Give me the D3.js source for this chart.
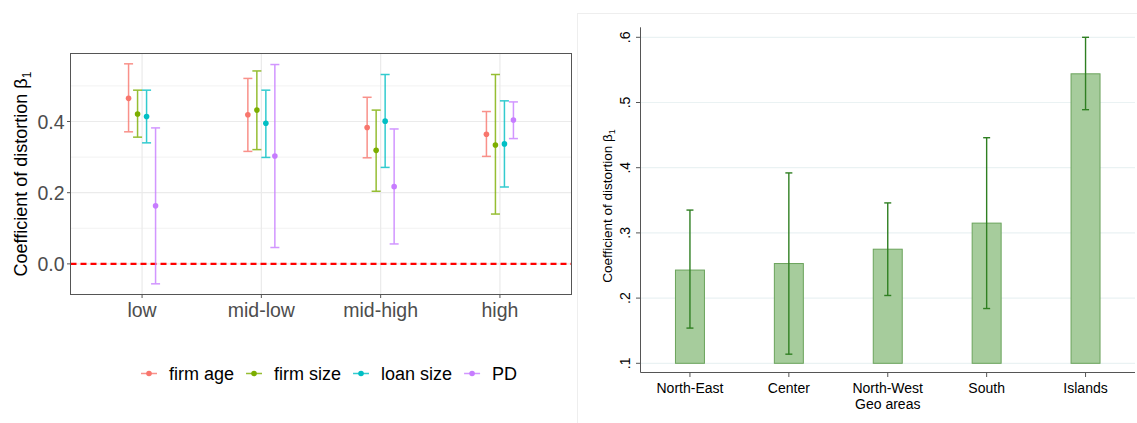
<!DOCTYPE html>
<html>
<head>
<meta charset="utf-8">
<script src="https://cdn.jsdelivr.net/npm/d3@7"></script>
<style>
  body { margin: 0; background: #fff; }
  text { font-family: "Liberation Sans", Arial, sans-serif; }
</style>
</head>
<body>
<script>
// ---- data: left panel (coefficient by quartile, four sorting variables)
var groups = ["low", "mid-low", "mid-high", "high"];
var series = ["firm age", "firm size", "loan size", "PD"];
var seriesColors = ["#F8766D", "#7CAE00", "#00BFC4", "#C77CFF"];
// estimate / lower / upper, one row per series, one column per group
var est = [
  [0.465, 0.419, 0.383, 0.364],
  [0.421, 0.432, 0.319, 0.334],
  [0.414, 0.395, 0.401, 0.337],
  [0.163, 0.303, 0.217, 0.404]
];
var lo = [
  [0.371, 0.316, 0.298, 0.302],
  [0.356, 0.321, 0.204, 0.140],
  [0.340, 0.299, 0.271, 0.216],
  [-0.056, 0.046, 0.056, 0.352]
];
var hi = [
  [0.562, 0.521, 0.468, 0.428],
  [0.488, 0.542, 0.432, 0.532],
  [0.488, 0.488, 0.532, 0.458],
  [0.382, 0.560, 0.379, 0.455]
];
var leftTicks = [0.0, 0.2, 0.4];
var leftMinor = [0.1, 0.3, 0.5];

// ---- data: right panel (coefficient by geo area)
var areas = ["North-East", "Center", "North-West", "South", "Islands"];
var areaEst = [0.243, 0.253, 0.275, 0.315, 0.544];
var areaLo = [0.154, 0.114, 0.204, 0.184, 0.489];
var areaHi = [0.335, 0.392, 0.346, 0.446, 0.600];
var rightTicks = [0.1, 0.2, 0.3, 0.4, 0.5, 0.6];

var W = 1137, H = 423;
var svg = d3.select("body").append("svg")
    .attr("width", W)
    .attr("height", H);

// ================= LEFT PANEL (ggplot look) =================
var L = {left: 70.5, right: 571.5, top: 53.5, bottom: 294.5};

var yL = d3.scaleLinear().domain([-0.086, 0.591]).range([L.bottom, L.top]);
var xL = d3.scalePoint().domain(groups).range([L.left, L.right]).padding(0.6);
var dodge = d3.scalePoint().domain(series).range([-13.5, 13.5]);

var gl = svg.append("g");

// minor grid
gl.selectAll(".minor").data(leftMinor).enter().append("line")
    .attr("x1", L.left).attr("x2", L.right)
    .attr("y1", function(d) { return yL(d); })
    .attr("y2", function(d) { return yL(d); })
    .style("stroke", "#F2F2F2").style("stroke-width", 1);
// major grid
gl.selectAll(".major").data(leftTicks).enter().append("line")
    .attr("x1", L.left).attr("x2", L.right)
    .attr("y1", function(d) { return yL(d); })
    .attr("y2", function(d) { return yL(d); })
    .style("stroke", "#EBEBEB").style("stroke-width", 1.2);
gl.selectAll(".vgrid").data(groups).enter().append("line")
    .attr("x1", function(d) { return xL(d); })
    .attr("x2", function(d) { return xL(d); })
    .attr("y1", L.top).attr("y2", L.bottom)
    .style("stroke", "#EBEBEB").style("stroke-width", 1.2);

// red dashed zero line
gl.append("line")
    .attr("x1", L.left).attr("x2", L.right)
    .attr("y1", yL(0)).attr("y2", yL(0))
    .style("stroke", "#FF0000")
    .style("stroke-width", 2.2)
    .style("stroke-dasharray", "6,4");

// error bars and points
series.forEach(function(s, i) {
  var g = gl.append("g");
  groups.forEach(function(grp, j) {
    var cx = xL(grp) + dodge(s);
    var bar = g.append("g").style("opacity", 0.8);
    bar.append("line")
        .attr("x1", cx).attr("x2", cx)
        .attr("y1", yL(lo[i][j])).attr("y2", yL(hi[i][j]))
        .style("stroke", seriesColors[i]).style("stroke-width", 1.5);
    [lo[i][j], hi[i][j]].forEach(function(v) {
      bar.append("line")
          .attr("x1", cx - 4.5).attr("x2", cx + 4.5)
          .attr("y1", yL(v)).attr("y2", yL(v))
          .style("stroke", seriesColors[i]).style("stroke-width", 1.5);
    });
    g.append("circle")
        .attr("cx", cx).attr("cy", yL(est[i][j]))
        .attr("r", 2.8)
        .style("fill", seriesColors[i]);
  });
});

// panel border
gl.append("rect")
    .attr("x", L.left).attr("y", L.top)
    .attr("width", L.right - L.left).attr("height", L.bottom - L.top)
    .style("fill", "none").style("stroke", "#555").style("stroke-width", 1);

// y axis ticks and labels
gl.selectAll(".ytick").data(leftTicks).enter().append("line")
    .attr("x1", L.left - 3.5).attr("x2", L.left)
    .attr("y1", function(d) { return yL(d); })
    .attr("y2", function(d) { return yL(d); })
    .style("stroke", "#555");
gl.selectAll(".ylab").data(leftTicks).enter().append("text")
    .attr("x", L.left - 6).attr("y", function(d) { return yL(d); })
    .attr("dy", "0.36em")
    .attr("text-anchor", "end")
    .style("font-size", "19.5px").style("fill", "#4D4D4D")
    .text(d3.format(".1f"));

// x axis ticks and labels
gl.selectAll(".xtick").data(groups).enter().append("line")
    .attr("x1", function(d) { return xL(d); })
    .attr("x2", function(d) { return xL(d); })
    .attr("y1", L.bottom).attr("y2", L.bottom + 3.5)
    .style("stroke", "#555");
gl.selectAll(".xlab").data(groups).enter().append("text")
    .attr("x", function(d) { return xL(d); })
    .attr("y", 316.5)
    .attr("text-anchor", "middle")
    .style("font-size", "19.5px").style("fill", "#4D4D4D")
    .text(function(d) { return d; });

// y title
var ytl = gl.append("text")
    .attr("transform", "translate(27," + ((L.top + L.bottom) / 2) + ") rotate(-90)")
    .attr("text-anchor", "middle")
    .style("font-size", "18px").style("fill", "#000");
ytl.append("tspan").text("Coefficient of distortion β");
ytl.append("tspan").attr("dy", "0.3em").style("font-size", "12px").text("1");

// legend
var legX = 141, legY = 373.5;
series.forEach(function(s, i) {
  var lg = gl.append("g").attr("transform", "translate(" + legX + "," + legY + ")");
  lg.append("line").attr("x1", 0).attr("x2", 16)
      .style("stroke", seriesColors[i]).style("stroke-width", 1.5).style("opacity", 0.8);
  lg.append("circle").attr("cx", 8).attr("r", 2.8).style("fill", seriesColors[i]);
  var t = lg.append("text").attr("x", 28).attr("dy", "0.36em")
      .style("font-size", "18px").style("fill", "#000").text(s);
  legX += 28 + t.node().getComputedTextLength() + 12;
});

// separator line between panels
svg.append("line")
    .attr("x1", 577.5).attr("x2", 577.5).attr("y1", 13).attr("y2", H)
    .style("stroke", "#EEEEEE");

// ================= RIGHT PANEL (Stata look) =================
var R = {left: 640.5, right: 1135, top: 37.3, bottom: 363.3, axisY: 372.5};

svg.append("line")
    .attr("x1", 577.5).attr("x2", W).attr("y1", 13.5).attr("y2", 13.5)
    .style("stroke", "#EEEEEE");

var yR = d3.scaleLinear().domain([0.1, 0.6]).range([R.bottom, R.top]);
var xR = d3.scaleBand().domain(areas).range([R.left, R.right])
    .paddingInner(0.707).paddingOuter(0.3535);

var gr = svg.append("g");

gr.selectAll(".rgrid").data(rightTicks).enter().append("line")
    .attr("x1", R.left).attr("x2", R.right)
    .attr("y1", function(d) { return yR(d); })
    .attr("y2", function(d) { return yR(d); })
    .style("stroke", "#EAF2F3").style("stroke-width", 1.2);

// bars
gr.selectAll(".bar").data(areas).enter().append("rect")
    .attr("x", function(d) { return xR(d); })
    .attr("width", xR.bandwidth())
    .attr("y", function(d, i) { return yR(areaEst[i]); })
    .attr("height", function(d, i) { return yR(0.1) - yR(areaEst[i]); })
    .style("fill", "#A6CC9C")
    .style("stroke", "#6AA35B")
    .style("stroke-width", 1);

// error bars
areas.forEach(function(a, i) {
  var cx = xR(a) + xR.bandwidth() / 2;
  gr.append("line")
      .attr("x1", cx).attr("x2", cx)
      .attr("y1", yR(areaLo[i])).attr("y2", yR(areaHi[i]))
      .style("stroke", "#2F7F22").style("stroke-width", 1.4);
  [areaLo[i], areaHi[i]].forEach(function(v) {
    gr.append("line")
        .attr("x1", cx - 3.5).attr("x2", cx + 3.5)
        .attr("y1", yR(v)).attr("y2", yR(v))
        .style("stroke", "#2F7F22").style("stroke-width", 1.4);
  });
});

// axes
gr.append("line")
    .attr("x1", R.left).attr("x2", R.left)
    .attr("y1", R.top - 10).attr("y2", R.axisY)
    .style("stroke", "#555");
gr.append("line")
    .attr("x1", R.left).attr("x2", R.right)
    .attr("y1", R.axisY).attr("y2", R.axisY)
    .style("stroke", "#555");

gr.selectAll(".rytick").data(rightTicks).enter().append("line")
    .attr("x1", R.left - 4.5).attr("x2", R.left)
    .attr("y1", function(d) { return yR(d); })
    .attr("y2", function(d) { return yR(d); })
    .style("stroke", "#555");
gr.selectAll(".rylab").data(rightTicks).enter().append("text")
    .attr("transform", function(d) { return "translate(630," + yR(d) + ") rotate(-90)"; })
    .attr("text-anchor", "middle")
    .style("font-size", "14px").style("fill", "#000")
    .text(function(d) { return d3.format(".1f")(d).replace(/^0/, ""); });

gr.selectAll(".rxtick").data(areas).enter().append("line")
    .attr("x1", function(d) { return xR(d) + xR.bandwidth() / 2; })
    .attr("x2", function(d) { return xR(d) + xR.bandwidth() / 2; })
    .attr("y1", R.axisY).attr("y2", R.axisY + 4.5)
    .style("stroke", "#555");
gr.selectAll(".rxlab").data(areas).enter().append("text")
    .attr("x", function(d) { return xR(d) + xR.bandwidth() / 2; })
    .attr("y", 393)
    .attr("text-anchor", "middle")
    .style("font-size", "14px").style("fill", "#000")
    .text(function(d) { return d; });

gr.append("text")
    .attr("x", xR("North-West") + xR.bandwidth() / 2)
    .attr("y", 409)
    .attr("text-anchor", "middle")
    .style("font-size", "14px").style("fill", "#000")
    .text("Geo areas");

var ytr = gr.append("text")
    .attr("transform", "translate(612,206) rotate(-90)")
    .attr("text-anchor", "middle")
    .style("font-size", "13.5px").style("fill", "#000");
ytr.append("tspan").text("Coefficient of distortion β");
ytr.append("tspan").attr("dy", "0.3em").style("font-size", "9px").text("1");
</script>
</body>
</html>
